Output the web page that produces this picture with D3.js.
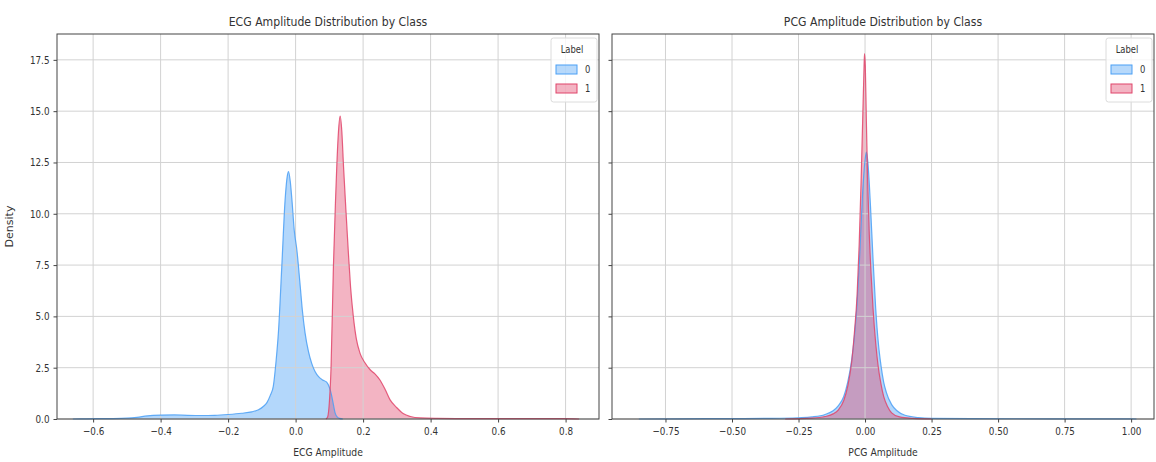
<head>
    <meta charset="utf-8">
    <meta name="viewport" content="width=device-width, initial-scale=1">
    <style>
        body { margin: 0; background: #fff; }
        text { font-family: "DejaVu Sans", sans-serif; fill: #333; }
    </style>
    <script src="https://d3js.org/d3.v7.min.js"></script>
</head>
<body>
    <div id="chart"></div>
    <script>

        var W = 1156, H = 462;
        var SX = 0.84; // the picture is squeezed sideways, text too

        // ECG, class 0
        var ecgX0 = [-0.66, -0.62, -0.55, -0.5, -0.47, -0.44, -0.40, -0.36, -0.32, -0.28, -0.24, -0.2, -0.16, -0.13, -0.11, -0.095, -0.085, -0.075, -0.066, -0.058, -0.051, -0.041, -0.031, -0.025, -0.021, -0.016, -0.011, -0.004, 0.004, 0.013, 0.02, 0.028, 0.038, 0.048, 0.058, 0.068, 0.08, 0.092, 0.1, 0.106, 0.112, 0.117, 0.123, 0.13, 0.14];
        var ecgY0 = [0, 0.01, 0.02, 0.04, 0.08, 0.15, 0.19, 0.2, 0.18, 0.17, 0.18, 0.22, 0.28, 0.35, 0.45, 0.62, 0.8, 1.15, 1.6, 2.8, 4.2, 7.4, 10.7, 11.8, 12.05, 11.6, 10.7, 9.2, 8.2, 6.6, 5.3, 4.2, 3.3, 2.7, 2.3, 2.06, 1.9, 1.8, 1.55, 1.2, 0.7, 0.3, 0.1, 0.03, 0];

        // ECG, class 1
        var ecgX1 = [0.09, 0.095, 0.1, 0.105, 0.112, 0.118, 0.122, 0.127, 0.132, 0.137, 0.142, 0.149, 0.156, 0.163, 0.171, 0.18, 0.191, 0.205, 0.221, 0.235, 0.25, 0.265, 0.28, 0.3, 0.32, 0.34, 0.37, 0.42, 0.5, 0.6, 0.7, 0.8, 0.84];
        var ecgY1 = [0, 0.1, 0.8, 2.5, 7.4, 10.5, 12.3, 14.0, 14.76, 14.0, 12.3, 10.2, 8.2, 6.4, 5.0, 3.9, 3.2, 2.75, 2.4, 2.2, 1.9, 1.45, 0.93, 0.55, 0.25, 0.12, 0.05, 0.03, 0.02, 0.02, 0.02, 0.015, 0];

        // PCG, class 0
        var pcgX0 = [-0.85, -0.7, -0.5, -0.35, -0.25, -0.2, -0.15, -0.12, -0.1, -0.08, -0.065, -0.05, -0.04, -0.03, -0.02, -0.01, 0.0, 0.005, 0.01, 0.02, 0.03, 0.04, 0.05, 0.06, 0.07, 0.08, 0.1, 0.12, 0.15, 0.2, 0.25, 0.4, 0.7, 1.0, 1.02];
        var pcgY0 = [0, 0.01, 0.02, 0.03, 0.06, 0.1, 0.22, 0.4, 0.65, 1.1, 1.8, 2.9, 4.0, 5.6, 8.0, 10.8, 12.6, 13.0, 12.6, 10.5, 7.8, 5.4, 3.7, 2.6, 1.8, 1.3, 0.7, 0.4, 0.18, 0.07, 0.03, 0.015, 0.01, 0.005, 0];

        // PCG, class 1
        var pcgX1 = [-0.3, -0.2, -0.15, -0.12, -0.1, -0.08, -0.065, -0.05, -0.04, -0.03, -0.022, -0.015, -0.009, -0.004, -0.002, 0.001, 0.005, 0.01, 0.016, 0.023, 0.03, 0.04, 0.05, 0.06, 0.07, 0.085, 0.1, 0.13, 0.18, 0.25];
        var pcgY1 = [0, 0.04, 0.12, 0.25, 0.45, 0.9, 1.6, 2.8, 4.2, 6.0, 8.5, 11.5, 14.5, 17.0, 17.8, 17.2, 14.5, 11.5, 9.0, 7.0, 5.4, 3.7, 2.5, 1.7, 1.1, 0.6, 0.3, 0.1, 0.03, 0];

        var ecgTicks = [-0.6, -0.4, -0.2, 0.0, 0.2, 0.4, 0.6, 0.8];
        var pcgTicks = [-0.75, -0.5, -0.25, 0.0, 0.25, 0.5, 0.75, 1.0];
        var yTicks = [0, 2.5, 5, 7.5, 10, 12.5, 15, 17.5];
        var labels = ["0", "1"];
        var colors = ["#4a9ff5", "#e0446a"];

        var panels = [
            {title: "ECG Amplitude Distribution by Class", xlab: "ECG Amplitude", left: 57, right: 599,
             domain: [-0.707, 0.899], ticks: ecgTicks, fmt: d3.format(".1f"), showY: true,
             series: [[ecgX0, ecgY0], [ecgX1, ecgY1]]},
            {title: "PCG Amplitude Distribution by Class", xlab: "PCG Amplitude", left: 612, right: 1154,
             domain: [-0.951, 1.086], ticks: pcgTicks, fmt: d3.format(".2f"), showY: false,
             series: [[pcgX0, pcgY0], [pcgX1, pcgY1]]}
        ];

        var yTop = 34, yBot = 419;

        var svg = d3.select("#chart").append("svg")
            .attr("width", W)
            .attr("height", H);

        function squeeze(sel) {
            sel.each(function() {
                var t = d3.select(this);
                var x = +t.attr("x") || 0;
                t.attr("transform", "translate(" + x + ",0) scale(" + SX + ",1) translate(" + (-x) + ",0)");
            });
        }

        var y = d3.scaleLinear()
            .domain([0, 18.76])
            .range([yBot, yTop]);

        panels.forEach(function(p) {

            var x = d3.scaleLinear()
                .domain(p.domain)
                .range([p.left, p.right]);

            var g = svg.append("g");

            var area = d3.area()
                .curve(d3.curveMonotoneX)
                .x(d => x(d[0]))
                .y0(y(0))
                .y1(d => y(d[1]));

            var line = d3.line()
                .curve(d3.curveMonotoneX)
                .x(d => x(d[0]))
                .y(d => y(d[1]));

            // fills
            p.series.forEach(function(s, i) {
                g.append("path")
                    .datum(d3.zip(s[0], s[1]))
                    .attr("fill", colors[i])
                    .attr("fill-opacity", i == 0 ? 0.42 : 0.4)
                    .attr("d", area);
            });

            // grid
            g.append("g").selectAll("line")
                .data(p.ticks).join("line")
                .attr("x1", d => x(d)).attr("x2", d => x(d))
                .attr("y1", yTop).attr("y2", yBot)
                .attr("stroke", "#d2d2d2").attr("stroke-width", 1);

            g.append("g").selectAll("line")
                .data(yTicks).join("line")
                .attr("x1", p.left).attr("x2", p.right)
                .attr("y1", d => y(d)).attr("y2", d => y(d))
                .attr("stroke", "#d2d2d2").attr("stroke-width", 1);

            // outlines
            p.series.forEach(function(s, i) {
                g.append("path")
                    .datum(d3.zip(s[0], s[1]))
                    .attr("fill", "none")
                    .attr("stroke", colors[i])
                    .attr("stroke-opacity", 0.85)
                    .attr("stroke-width", 1.2)
                    .attr("d", line);
            });

            // frame
            g.append("rect")
                .attr("x", p.left).attr("y", yTop)
                .attr("width", p.right - p.left).attr("height", yBot - yTop)
                .attr("fill", "none").attr("stroke", "#444").attr("stroke-width", 1);

            g.append("g")
                .attr("class", "ax")
                .attr("transform", "translate(0," + yBot + ")")
                .call(d3.axisBottom(x).tickValues(p.ticks).tickSize(3.5).tickPadding(5)
                    .tickFormat(d => p.fmt(d).replace("-", "\u2212")));

            g.append("g")
                .attr("class", "ax")
                .attr("transform", "translate(" + p.left + ",0)")
                .call(d3.axisLeft(y).tickValues(yTicks).tickSize(3.5).tickPadding(4)
                    .tickFormat(d => p.showY ? d3.format(".1f")(d) : ""));

            g.selectAll(".ax").select(".domain").remove();
            g.selectAll(".ax").selectAll("line").attr("stroke", "#444");
            g.selectAll(".ax").selectAll("text")
                .attr("font-size", 10.5)
                .attr("font-family", "DejaVu Sans")
                .attr("fill", "#333")
                .call(squeeze);

            var mid = (p.left + p.right) / 2;

            g.append("text")
                .attr("x", mid).attr("y", 26)
                .attr("text-anchor", "middle")
                .attr("font-size", 13)
                .attr("fill", "#222")
                .text(p.title)
                .call(squeeze);

            g.append("text")
                .attr("x", mid).attr("y", 456)
                .attr("text-anchor", "middle")
                .attr("font-size", 11)
                .text(p.xlab)
                .call(squeeze);

            // legend
            var lg = g.append("g")
                .attr("transform", "translate(" + (p.right - 48) + "," + (yTop + 4) + ")");

            lg.append("rect")
                .attr("width", 46).attr("height", 64).attr("rx", 2.5)
                .attr("fill", "#fff").attr("fill-opacity", 0.8)
                .attr("stroke", "#dcdcdc");

            lg.append("text")
                .attr("x", 21).attr("y", 15)
                .attr("text-anchor", "middle")
                .attr("font-size", 10)
                .text("Label")
                .call(squeeze);

            labels.forEach(function(l, i) {
                lg.append("rect")
                    .attr("x", 5).attr("y", 27 + i * 19)
                    .attr("width", 21).attr("height", 9)
                    .attr("fill", d3.color(colors[i]).copy({opacity: 0.4}))
                    .attr("stroke", colors[i]);
                lg.append("text")
                    .attr("x", 34).attr("y", 35 + i * 19)
                    .attr("font-size", 10)
                    .text(l)
                    .call(squeeze);
            });
        });

        svg.append("text")
            .attr("transform", "translate(13," + ((yTop + yBot) / 2) + ") rotate(-90)")
            .attr("text-anchor", "middle")
            .attr("font-size", 11)
            .text("Density");

    </script>
</body>
